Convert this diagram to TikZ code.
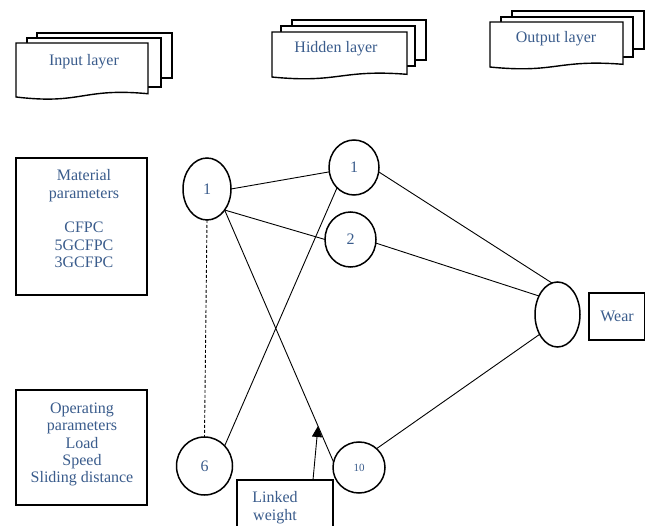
\documentclass[tikz,border=0pt]{standalone}
\usepackage{fontspec}
\setmainfont{Liberation Serif}
\usetikzlibrary{shapes.geometric,arrows.meta}
\definecolor{txtblue}{RGB}{58,92,140}
\newcommand{\docshape}[4]{\begin{scope}[shift={(#1,#2)},xscale=#3,yscale=#4]
  \path[page] (0,0) -- (1,0) -- (1,0.878) .. controls (0.5,0.769) and (0.5,1.072) .. (0,0.934) -- cycle;
\end{scope}}
\begin{document}
\begin{tikzpicture}[x=1pt,y=-1pt,
  lbl/.style={text=txtblue,font=\fontsize{16}{17.4}\selectfont,align=center,inner sep=0pt},
  neuron/.style={draw,ellipse,line width=1.5pt,inner sep=0pt,outer sep=0pt,text=txtblue,font=\fontsize{16}{17.4}\selectfont},
  pbox/.style={draw,rectangle,line width=1.5pt,inner sep=0pt,outer sep=0pt,fill=white},
  link/.style={line width=0.9pt},
  page/.style={draw,line width=1.4pt,fill=white}
]
\useasboundingbox (0,0) rectangle (645,526);
\clip (0,0) rectangle (645,526);

% layer documents
\draw[page] (37,33) rectangle (172,78);
\draw[page] (27,38) rectangle (161,87);
\docshape{16}{43}{132}{57.8}
\node[lbl,anchor=north] (inl) at (84,54.5) {Input layer};

\draw[page] (292,20) rectangle (426,60);
\draw[page] (281,26) rectangle (415,66);
\docshape{272}{32}{135}{48.2}
\node[lbl,anchor=north] (hdl) at (336,41.5) {Hidden layer};

\draw[page] (512,11) rectangle (644,49);
\draw[page] (501,17) rectangle (633,57);
\docshape{490}{22}{133}{48.2}
\node[lbl,anchor=north] (otl) at (556,31.5) {Output layer};

% parameter boxes
\node[pbox,minimum width=131pt,minimum height=137pt] (mat) at (81.5,226.5) {};
\node[lbl,anchor=north] (matt) at (84,169.5) {Material\\parameters\\[17.4pt]CFPC\\5GCFPC\\3GCFPC};

\node[pbox,minimum width=131pt,minimum height=115pt] (opr) at (81.5,447.5) {};
\node[lbl,anchor=north] (oprt) at (82,402.5) {Operating\\parameters\\Load\\Speed\\Sliding distance};

\node[pbox,minimum width=56pt,minimum height=47pt,text=txtblue,font=\fontsize{16}{17.4}\selectfont] (wear) at (617,316.5) {Wear};

% neurons
\node[neuron,minimum width=48pt,minimum height=62pt] (in1) at (207,189) {1};
\node[neuron,minimum width=56pt,minimum height=58pt] (n6) at (204.5,466) {6};
\node[neuron,minimum width=50pt,minimum height=55pt] (h1) at (354,167.5) {1};
\node[neuron,minimum width=51pt,minimum height=55pt] (h2) at (350.5,239.5) {2};
\node[neuron,minimum width=52pt,minimum height=51pt,font=\fontsize{11}{12}\selectfont] (n10) at (359,467.5) {10};
\node[neuron,minimum width=45pt,minimum height=65pt] (out) at (557.5,314.5) {};

% connections
\draw[link] (in1.0) -- (h1.190);
\draw[link] (in1.-50) -- (h2.180);
\draw[link] (in1.-50) -- (n10.168);
\draw[link,dash pattern=on 3pt off 2pt] (in1.south) -- (n6.north);
\draw[link] (n6.45) -- (h1.230);
\draw[link] (h1.-10) -- (out.100);
\draw[link] (h2.-8) -- (out.135);
\draw[link] (n10.47) -- (out.228);

% linked weight
\node[pbox,minimum width=96pt,minimum height=60pt,anchor=north west] (lw) at (237,480) {};
\node[lbl,anchor=north] (lwt) at (275,491.5) {Linked\\weight};
\coordinate (wt) at (318,426);
\draw[link,-{Triangle[length=11pt,width=10pt]}] ([xshift=-20pt]lw.north east) -- (wt);
\end{tikzpicture}
\end{document}
